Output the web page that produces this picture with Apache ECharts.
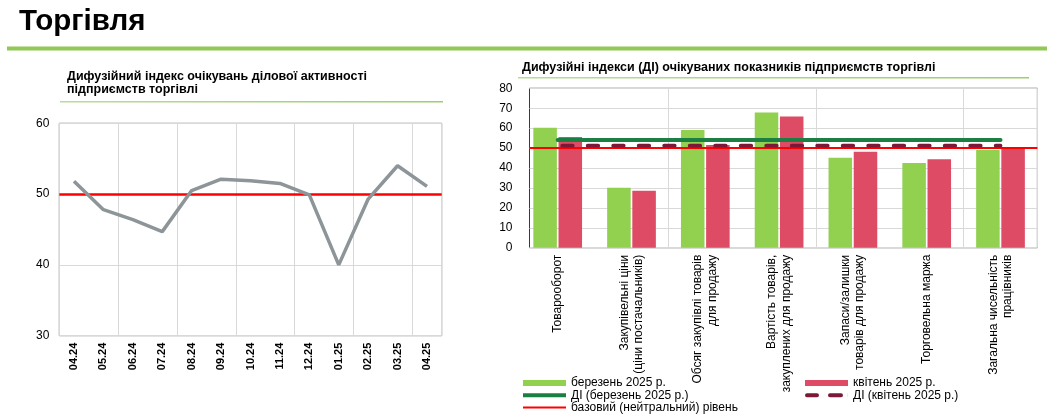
<!DOCTYPE html>
<html>
<head>
<meta charset="utf-8">
<script src="https://cdn.jsdelivr.net/npm/echarts@6/dist/echarts.min.js"></script>
<style>
html,body{margin:0;padding:0;background:#fff;}
#chart{width:1049px;height:418px;}
</style>
</head>
<body>
<div id="chart"></div>
<script>
// ---- Data ----
const months = ['04.24','05.24','06.24','07.24','08.24','09.24','10.24','11.24','12.24','01.25','02.25','03.25','04.25'];
const diIndex = [51.8, 47.8, 46.4, 44.7, 50.5, 52.1, 51.9, 51.5, 49.9, 40.0, 49.3, 54.0, 51.1];

const indicators = [
  'Товарооборот',
  'Закупівельні ціни\n(ціни постачальників)',
  'Обсяг закупівлі товарів\nдля продажу',
  'Вартість товарів,\nзакуплених для продажу',
  'Запаси/залишки\nтоварів для продажу',
  'Торговельна маржа',
  'Загальна чисельність\nпрацівників'
];
const march2025 = [60.2, 30.1, 59.1, 67.8, 45.2, 42.5, 49.0];
const april2025 = [55.6, 28.6, 51.5, 65.8, 48.2, 44.4, 50.2];
const diMarch2025 = 54.1;
const diApril2025 = 51.2;
const baseLevel = 50;

const leftTicks = [30, 40, 50, 60];
const rightTicks = [0, 80];

// ---- Chart ----
const FONT = "'Liberation Sans', Arial, sans-serif";
const chart = echarts.init(document.getElementById('chart'), null, {renderer:'canvas'});

const nameMarch = 'березень 2025 р.';
const nameApril = 'квітень 2025 р.';
const nameDiMarch = 'ДІ (березень 2025 р.)';
const nameDiApril = 'ДІ (квітень 2025 р.)';
const nameBase = 'базовий (нейтральний) рівень';

function legendItem(left, top, name, icon, h) {
  return {left: left, top: top, orient: 'vertical', padding: 0, itemGap: 0, itemWidth: 43, itemHeight: h,
    textStyle: {fontFamily: FONT, fontSize: 12, color: '#000', lineHeight: 12.3},
    data: [{name: name, icon: icon}]};
}

const dashIcon = 'path://M2,0H12A2,2 0 0 1 12,4H2A2,2 0 0 1 2,0Z M25,0H36A2,2 0 0 1 36,4H25A2,2 0 0 1 25,0Z M42.9,0H43V4H42.9Z';

const option = {
  animation: false,
  textStyle: {fontFamily: FONT},
  title: [
    {text: 'Торгівля', left: 19, top: 7, padding: 0,
     textStyle: {fontFamily: FONT, fontSize: 29.5, fontWeight: 'bold', color: '#000'}},
    {text: 'Дифузійний індекс очікувань ділової активності\nпідприємств торгівлі', left: 67, top: 69.5, padding: 0,
     textStyle: {fontFamily: FONT, fontSize: 12.5, fontWeight: 'bold', color: '#000', lineHeight: 13.5}},
    {text: 'Дифузійні індекси (ДІ) очікуваних показників підприємств торгівлі', left: 522, top: 61, padding: 0,
     textStyle: {fontFamily: FONT, fontSize: 12.5, fontWeight: 'bold', color: '#000'}}
  ],
  graphic: [
    {type: 'rect', left: 7, top: 46.5, shape: {width: 1040, height: 4}, style: {fill: '#92c857'}},
    {type: 'rect', left: 60, top: 101, shape: {width: 383, height: 1.5},
     style: {fill: new echarts.graphic.LinearGradient(0,0,1,0,[{offset:0,color:'#b9dc97'},{offset:1,color:'#9ccf6b'}])}},
    {type: 'rect', left: 518, top: 77, shape: {width: 511, height: 1.5},
     style: {fill: new echarts.graphic.LinearGradient(0,0,1,0,[{offset:0,color:'#b9dc97'},{offset:1,color:'#9ccf6b'}])}}
  ],
  legend: [
    legendItem(523, 376.85, nameMarch, 'rect', 6),
    legendItem(523, 389.15, nameDiMarch, 'rect', 4),
    legendItem(523, 401.45, nameBase, 'rect', 2),
    legendItem(805, 376.85, nameApril, 'rect', 6),
    legendItem(805, 389.15, nameDiApril, dashIcon, 4)
  ],
  grid: [
    {left: 59.3, right: 607.3, top: 123.3, bottom: 82.3, show: true, borderColor: '#6b6b6b', borderWidth: 1, containLabel: false},
    {left: 520.8, right: 11.6, top: 88.3, bottom: 170.3, show: false, containLabel: false},
    {left: 529.5, right: 11.6, top: 88.3, bottom: 170.3, show: true, borderColor: '#3a3a3a', borderWidth: 1, containLabel: false}
  ],
  xAxis: [
    {type: 'category', gridIndex: 0, data: months, boundaryGap: true,
     axisLine: {show: false}, axisTick: {show: false},
     axisLabel: {interval: 0, rotate: 90, margin: 7, fontSize: 11, fontWeight: 'bold', color: '#000', fontFamily: FONT},
     splitLine: {show: true, interval: 1, lineStyle: {color: '#d9d9d9', width: 1}}},
    {type: 'category', gridIndex: 1, data: indicators, boundaryGap: true,
     axisLine: {show: false}, axisTick: {show: false},
     axisLabel: {interval: 0, rotate: 90, margin: 7, fontSize: 12, color: '#000', fontFamily: FONT, lineHeight: 14.5},
     splitLine: {show: true, interval: function (i) { return i > 0 && i % 2 === 0; }, lineStyle: {color: '#d9d9d9', width: 1}}},
    {type: 'category', gridIndex: 2, data: indicators, show: false}
  ],
  yAxis: [
    {type: 'value', gridIndex: 0, min: leftTicks[0], max: leftTicks[leftTicks.length-1], interval: 10,
     axisLine: {show: false}, axisTick: {show: false},
     axisLabel: {fontSize: 12, color: '#000', margin: 10, fontFamily: FONT},
     splitLine: {show: true, lineStyle: {color: '#d9d9d9', width: 1}}},
    {type: 'value', gridIndex: 1, min: rightTicks[0], max: rightTicks[1], show: false, splitLine: {show: false}},
    {type: 'value', gridIndex: 2, min: rightTicks[0], max: rightTicks[1], interval: 10,
     axisLine: {show: false}, axisTick: {show: false},
     axisLabel: {fontSize: 12, color: '#000', margin: 17, fontFamily: FONT},
     splitLine: {show: true, lineStyle: {color: '#d9d9d9', width: 1}}}
  ],
  series: [
    {name: 'ДІ торгівлі', type: 'line', xAxisIndex: 0, yAxisIndex: 0, data: diIndex,
     symbol: 'none', lineStyle: {color: '#8d9598', width: 3.5}, itemStyle: {color: '#8d9598'}, z: 3,
     markLine: {silent: true, symbol: 'none', label: {show: false}, z: 2,
       lineStyle: {color: '#ff0000', width: 2.5, type: 'solid'}, data: [{yAxis: baseLevel}]}},
    {name: nameMarch, type: 'bar', xAxisIndex: 1, yAxisIndex: 1, data: march2025,
     barCategoryGap: '34%', barGap: '7%', itemStyle: {color: '#92d050'}, z: 2},
    {name: nameApril, type: 'bar', xAxisIndex: 1, yAxisIndex: 1, data: april2025,
     barCategoryGap: '34%', barGap: '7%', itemStyle: {color: '#dd4b65'}, z: 2},
    {name: nameDiMarch, type: 'line', xAxisIndex: 1, yAxisIndex: 1, data: indicators.map(() => diMarch2025),
     symbol: 'none', lineStyle: {color: '#1b7f44', width: 4, cap: 'round'}, itemStyle: {color: '#1b7f44'}, z: 5},
    {name: nameDiApril, type: 'line', xAxisIndex: 1, yAxisIndex: 1, data: indicators.map(() => diApril2025),
     symbol: 'none', lineStyle: {color: '#7d1938', width: 3.8, type: [10.5, 15], dashOffset: 21, cap: 'round'},
     itemStyle: {color: '#7d1938'}, z: 5},
    {name: nameBase, type: 'line', xAxisIndex: 2, yAxisIndex: 2, data: [],
     symbol: 'none', lineStyle: {color: '#ff0000', width: 2}, itemStyle: {color: '#ff0000'}, z: 6,
     markLine: {silent: true, symbol: 'none', label: {show: false},
       lineStyle: {color: '#ff0000', width: 2, type: 'solid'}, data: [{yAxis: baseLevel}]}}
  ]
};
chart.setOption(option);
</script>
</body>
</html>
